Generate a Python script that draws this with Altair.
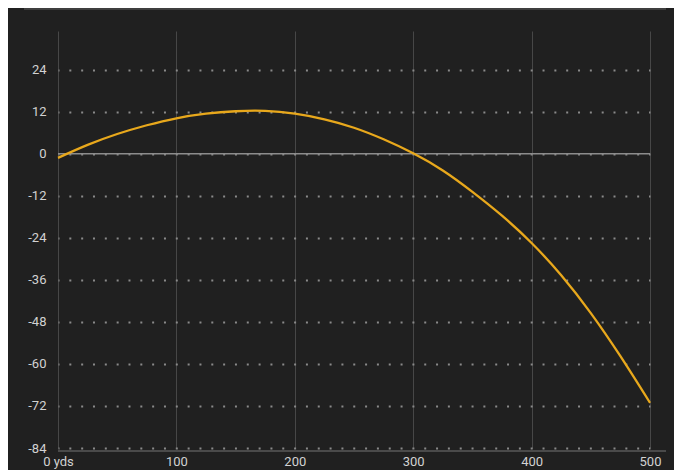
import altair as alt
import pandas as pd

# Trajectory: range (yards) vs. bullet path (inches)
yards = [0, 25, 50, 75, 100, 125, 150, 175, 200, 225, 250, 275, 300,
         325, 350, 375, 400, 425, 450, 475, 500]
path = [-1.2, 2.5, 5.6, 8.1, 10.1, 11.4, 12.1, 12.2, 11.4, 9.8, 7.4, 4.1, 0.1,
        -4.8, -10.9, -17.7, -25.5, -34.7, -45.5, -57.8, -71.1]

x_ticks = [0, 100, 200, 300, 400, 500]
y_ticks = [24, 12, 0, -12, -24, -36, -48, -60, -72, -84]

df = pd.DataFrame({"yards": yards, "path": path})

W, H = 592, 417
BG = "#202020"

x_scale = alt.Scale(domain=[0, 500], nice=False, zero=False)
y_scale = alt.Scale(domain=[-84, 35], nice=False, zero=False)

x_axis = alt.Axis(
    values=x_ticks, title=None, domain=False, ticks=False,
    grid=True, gridColor="#474747", gridWidth=1,
    labelColor="#d2d2d2", labelFontSize=13, labelFont="Roboto",
    labelPadding=7, labelFlush=False,
    labelExpr="datum.value == 0 ? '0 yds' : '' + datum.value",
)
y_axis = alt.Axis(
    values=y_ticks, title=None, domain=False, ticks=False,
    grid=True, gridColor="#8a8a8a", gridWidth=2,
    gridDash=[2, 9.83], gridDashOffset=1,
    labelColor="#d2d2d2", labelFontSize=13, labelFont="Roboto",
    labelPadding=12,
    labelExpr="'' + datum.value",
)

helper = pd.DataFrame({"path": [0]})

zero_line = alt.Chart(helper).mark_rule(color="#8c8c8c", strokeWidth=1.5).encode(
    y=alt.Y("path:Q", scale=y_scale, axis=y_axis),
    x=alt.value(0), x2=alt.value(W),
)

bottom_line = alt.Chart(helper).mark_rule(color="#4a4a4a", strokeWidth=2).encode(
    x=alt.value(0), x2=alt.value(608), y=alt.value(420),
)
top_line = alt.Chart(helper).mark_rule(color="#4a4a4a", strokeWidth=1.5).encode(
    x=alt.value(-34), x2=alt.value(608), y=alt.value(-22),
)

curve = alt.Chart(df).mark_line(color="#e8a81c", strokeWidth=2.3, interpolate="natural").encode(
    x=alt.X("yards:Q", scale=x_scale, axis=x_axis),
    y=alt.Y("path:Q", scale=y_scale, axis=y_axis),
)

chart = alt.layer(zero_line, bottom_line, top_line, curve).properties(
    width=W, height=H,
    background=BG,
    padding={"left": 50, "top": 23, "right": 24, "bottom": 22},
    autosize=alt.AutoSizeParams(type="none"),
).configure_view(stroke=None)

chart.save("out.html", embed_options={"renderer": "svg", "actions": False})
